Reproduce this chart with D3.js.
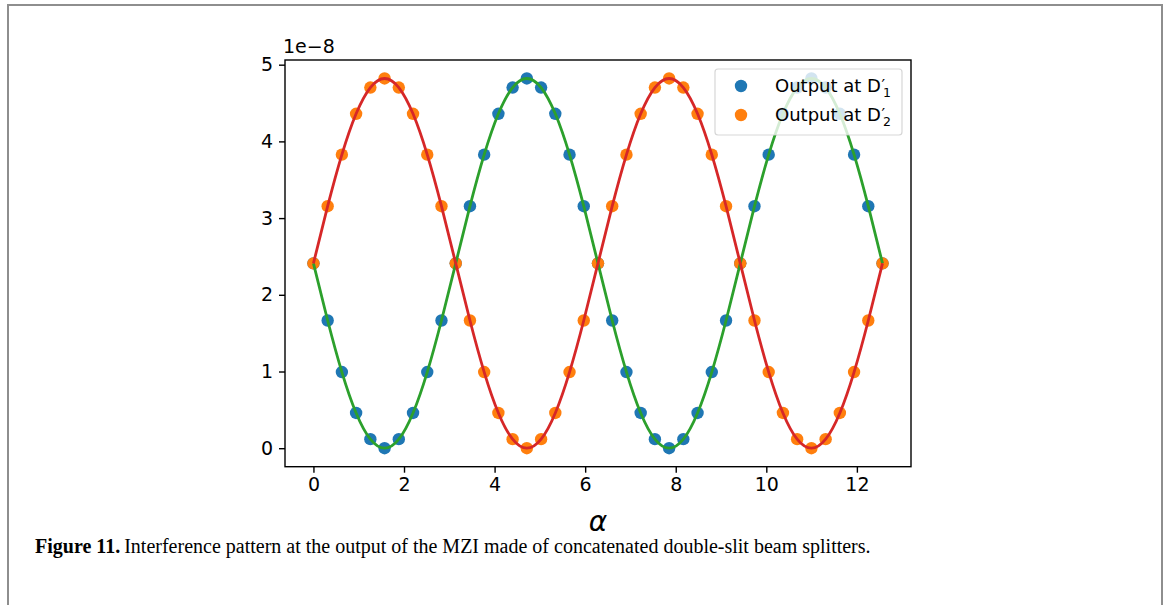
<!DOCTYPE html>
<html>
<head>
<meta charset="utf-8">
<script src="https://cdn.jsdelivr.net/npm/d3@7"></script>
<style>
  body { margin: 0; background: #fff; }
  svg { display: block; }
</style>
</head>
<body>
<svg width="1167" height="605"></svg>
<script>
// alpha values (k * pi/10, k = 0..40)
const alpha = [0, 0.314, 0.628, 0.942, 1.257, 1.571, 1.885, 2.199, 2.513, 2.827,
  3.142, 3.456, 3.770, 4.084, 4.398, 4.712, 5.027, 5.341, 5.655, 5.969,
  6.283, 6.597, 6.912, 7.226, 7.540, 7.854, 8.168, 8.482, 8.796, 9.111,
  9.425, 9.739, 10.053, 10.367, 10.681, 10.996, 11.310, 11.624, 11.938, 12.252, 12.566];

// outputs, in units of 1e-8
const outD1 = [2.41, 1.665, 0.993, 0.46, 0.118, 0, 0.118, 0.46, 0.993, 1.665,
  2.41, 3.155, 3.827, 4.36, 4.702, 4.82, 4.702, 4.36, 3.827, 3.155,
  2.41, 1.665, 0.993, 0.46, 0.118, 0, 0.118, 0.46, 0.993, 1.665,
  2.41, 3.155, 3.827, 4.36, 4.702, 4.82, 4.702, 4.36, 3.827, 3.155, 2.41];
const outD2 = [2.41, 3.155, 3.827, 4.36, 4.702, 4.82, 4.702, 4.36, 3.827, 3.155,
  2.41, 1.665, 0.993, 0.46, 0.118, 0, 0.118, 0.46, 0.993, 1.665,
  2.41, 3.155, 3.827, 4.36, 4.702, 4.82, 4.702, 4.36, 3.827, 3.155,
  2.41, 1.665, 0.993, 0.46, 0.118, 0, 0.118, 0.46, 0.993, 1.665, 2.41];

const xTicks = [0, 2, 4, 6, 8, 10, 12];
const yTicks = [0, 1, 2, 3, 4, 5];

const svg = d3.select("svg");

// page frame
svg.append("rect")
  .attr("x", 8).attr("y", 5)
  .attr("width", 1154).attr("height", 640)
  .attr("fill", "none")
  .attr("stroke", "#8e8e8e")
  .attr("stroke-width", 2);

const axL = 285, axR = 911, axT = 60, axB = 466.7;

const x = d3.scaleLinear().domain([-0.628, 13.195]).range([axL, axR]);
const y = d3.scaleLinear().domain([-0.241, 5.061]).range([axB, axT]);

const g = svg.append("g");

const ptsD1 = alpha.map((a, i) => ({ a: a, v: outD1[i] }));
const ptsD2 = alpha.map((a, i) => ({ a: a, v: outD2[i] }));

const line = d3.line()
  .x(d => x(d.a))
  .y(d => y(d.v))
  .curve(d3.curveNatural);

g.append("g").selectAll("circle")
  .data(ptsD1).join("circle")
  .attr("cx", d => x(d.a)).attr("cy", d => y(d.v))
  .attr("r", 6.2).attr("fill", "#1f77b4");

g.append("g").selectAll("circle")
  .data(ptsD2).join("circle")
  .attr("cx", d => x(d.a)).attr("cy", d => y(d.v))
  .attr("r", 6.2).attr("fill", "#ff7f0e");

g.append("path").datum(ptsD1)
  .attr("fill", "none").attr("stroke", "#2ca02c")
  .attr("stroke-width", 2.8).attr("d", line);

g.append("path").datum(ptsD2)
  .attr("fill", "none").attr("stroke", "#d62728")
  .attr("stroke-width", 2.8).attr("d", line);

// axes
const font = "'DejaVu Sans', sans-serif";

const xAxis = g.append("g")
  .attr("transform", "translate(0," + axB + ")")
  .call(d3.axisBottom(x).tickValues(xTicks).tickFormat(d3.format("d"))
    .tickSize(6).tickPadding(5).tickSizeOuter(0));
const yAxis = g.append("g")
  .attr("transform", "translate(" + axL + ",0)")
  .call(d3.axisLeft(y).tickValues(yTicks).tickFormat(d3.format("d"))
    .tickSize(6).tickPadding(6).tickSizeOuter(0));

[xAxis, yAxis].forEach(a => {
  a.select(".domain").remove();
  a.selectAll(".tick line").attr("stroke", "#000").attr("stroke-width", 1.4);
  a.selectAll(".tick text").attr("fill", "#000")
    .style("font-family", font).style("font-size", "19px");
});

g.append("rect")
  .attr("x", axL).attr("y", axT)
  .attr("width", axR - axL).attr("height", axB - axT)
  .attr("fill", "none").attr("stroke", "#000").attr("stroke-width", 1.4);

g.append("text")
  .attr("x", axL - 2).attr("y", axT - 7)
  .style("font-family", font).style("font-size", "19px")
  .text("1e\u22128");

g.append("text")
  .attr("x", 598).attr("y", 531)
  .attr("text-anchor", "middle")
  .style("font-family", font).style("font-size", "28px").style("font-style", "italic")
  .text("\u03b1");

// legend
const leg = g.append("g");
leg.append("rect")
  .attr("x", 715).attr("y", 69).attr("width", 187).attr("height", 66)
  .attr("rx", 3)
  .attr("fill", "#fff").attr("fill-opacity", 0.8)
  .attr("stroke", "#ccc").attr("stroke-opacity", 0.8).attr("stroke-width", 1.2);

const legItems = [
  { color: "#1f77b4", sub: "1", cy: 86 },
  { color: "#ff7f0e", sub: "2", cy: 115 }
];
legItems.forEach(d => {
  leg.append("circle").attr("cx", 741).attr("cy", d.cy).attr("r", 6.2).attr("fill", d.color);
  const t = leg.append("text")
    .attr("x", 775).attr("y", d.cy + 6)
    .style("font-family", font).style("font-size", "18px");
  t.append("tspan").text("Output at D");
  t.append("tspan").attr("dx", 0.5).attr("dy", -1).style("font-size", "16px").text("\u2032");
  t.append("tspan").attr("dx", -2).attr("dy", 6).style("font-size", "12.5px").text(d.sub);
});

// caption
const cap = svg.append("text")
  .attr("x", 35).attr("y", 553)
  .style("font-family", "'Liberation Serif', serif").style("font-size", "20px");
cap.append("tspan").style("font-weight", "bold").text("Figure 11.");
cap.append("tspan").attr("dx", 4).text("Interference pattern at the output of the MZI made of concatenated double-slit beam splitters.");
</script>
</body>
</html>
